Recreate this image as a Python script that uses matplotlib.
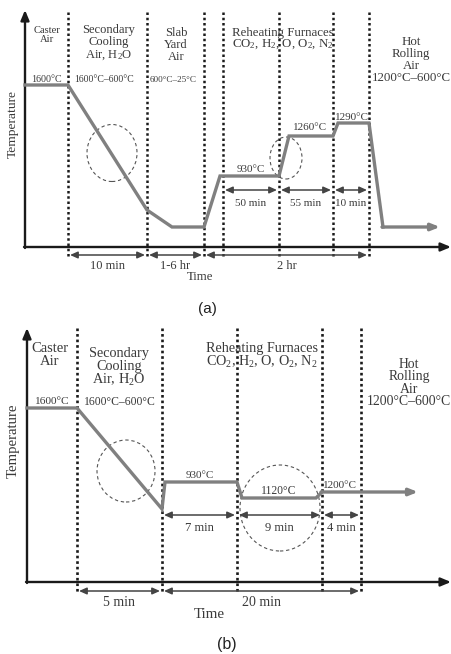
import matplotlib
matplotlib.use("Agg")
import matplotlib.pyplot as plt
from matplotlib.patches import Ellipse

plt.rcParams['font.family'] = ['Liberation Serif', 'DejaVu Serif']
plt.rcParams['mathtext.fontset'] = 'custom'
plt.rcParams['mathtext.rm'] = 'Liberation Serif'
plt.rcParams['mathtext.default'] = 'regular'

# ---------------- data (schematic units: x = time position, y = temperature level)
A_TIME = [25, 68, 147, 172, 204, 220, 279, 289, 333, 338, 369, 383, 440]
A_TEMP = [162, 162, 37, 20, 20, 71, 71, 111, 111, 124, 124, 20, 20]
A_BOUNDS = [68, 147, 204, 223, 279, 333, 369]
A_STAGES = ["Caster\nAir", "Secondary\nCooling\nAir, H$_2$O", "Slab\nYard\nAir",
            "Reheating Furnaces\nCO$_2$, H$_2$, O, O$_2$, N$_2$", "Hot\nRolling\nAir\n1200°C–600°C"]
A_TEMPS = ["1600°C", "1600°C–600°C", "600°C–25°C", "930°C", "1260°C", "1290°C"]
A_SPANS_LOW = [(68, 147, "10 min"), (147, 204, "1-6 hr"), (204, 369, "2 hr")]
A_SPANS_HIGH = [(223, 279, "50 min"), (279, 333, "55 min"), (333, 369, "10 min")]

B_TIME = [27, 77, 162, 165, 237, 242, 316, 322, 418]
B_TEMP = [174, 174, 73, 100, 100, 84, 84, 90, 90]
B_BOUNDS = [77, 162, 237, 322, 361]
B_STAGES = ["Caster\nAir", "Secondary\nCooling\nAir, H$_2$O",
            "Reheating Furnaces\nCO$_2$, H$_2$, O, O$_2$, N$_2$", "Hot\nRolling\nAir\n1200°C–600°C"]
B_TEMPS = ["1600°C", "1600°C–600°C", "930°C", "1120°C", "1200°C"]
B_SPANS_HIGH = [(162, 237, "7 min"), (237, 322, "9 min"), (322, 361, "4 min")]
B_SPANS_LOW = [(77, 162, "5 min"), (162, 361, "20 min")]

TXT = '#3a3a3a'
PROF = '#808080'
W, H = 452, 654

fig = plt.figure(figsize=(4.52, 6.54), dpi=100)
fig.patch.set_facecolor('white')


def make_axes(top_px, bot_px, base_px):
    ax = fig.add_axes([0, 1 - bot_px / H, 1, (bot_px - top_px) / H])
    ax.set_xlim(0, W)
    ax.set_ylim(base_px - bot_px, base_px - top_px)
    ax.axis('off')
    return ax


def span_arrow(ax, x0, x1, y, label, ly, fs):
    ax.annotate('', xy=(x1 - 2, y), xytext=(x0 + 2, y),
                arrowprops=dict(arrowstyle='<|-|>,head_length=0.45,head_width=0.2',
                                color='#444444', lw=1.1, shrinkA=0, shrinkB=0))
    ax.text((x0 + x1) / 2, ly, label, ha='center', va='center', fontsize=fs, color=TXT)


def axes_arrows(ax, x0, ytop, xright):
    ax.annotate('', xy=(x0, ytop), xytext=(x0, -1),
                arrowprops=dict(arrowstyle='-|>,head_length=0.6,head_width=0.25',
                                color='#1a1a1a', lw=1.7, shrinkA=0, shrinkB=0))
    ax.annotate('', xy=(xright, 0), xytext=(x0 - 1, 0),
                arrowprops=dict(arrowstyle='-|>,head_length=0.6,head_width=0.25',
                                color='#1a1a1a', lw=1.7, shrinkA=0, shrinkB=0))


def profile(ax, xs, ys):
    ax.plot(xs[:-1], ys[:-1], color=PROF, lw=2.4, solid_joinstyle='miter', zorder=3)
    ax.annotate('', xy=(xs[-1], ys[-1]), xytext=(xs[-2] - 1, ys[-2]),
                arrowprops=dict(arrowstyle='-|>,head_length=0.5,head_width=0.2',
                                color=PROF, lw=2.4, shrinkA=0, shrinkB=0), zorder=3)


def label(ax, x, y, s, fs, ls=1.0, **kw):
    ax.text(x, y, s, ha='center', va='center', fontsize=fs, color=TXT, linespacing=ls,
            zorder=4, **kw)


# ======================= panel (a) =======================
baseA = 247
axA = make_axes(0, 320, baseA)
pa = lambda py: baseA - py

for x in A_BOUNDS:
    axA.plot([x, x], [pa(12), pa(258)], color='#1a1a1a', lw=1.8,
             linestyle=(0, (1.0, 1.1)), zorder=2)
axes_arrows(axA, 25, pa(10), 451)
profile(axA, A_TIME, A_TEMP)

label(axA, 47, pa(35), A_STAGES[0], 7.6, 1.0)
label(axA, 109, pa(43), A_STAGES[1], 9.0, 0.98)
label(axA, 176, pa(45), A_STAGES[2], 9.0, 1.0)
label(axA, 283, pa(39), A_STAGES[3], 9.3, 0.9)
label(axA, 411, pa(60), A_STAGES[4], 9.3, 0.98)

label(axA, 46, pa(80), A_TEMPS[0], 7.2)
label(axA, 104, pa(80), A_TEMPS[1], 7.0)
label(axA, 173, pa(80), A_TEMPS[2], 6.6)
label(axA, 251, pa(169), A_TEMPS[3], 8.0)
label(axA, 310, pa(127), A_TEMPS[4], 8.0)
label(axA, 352, pa(117), A_TEMPS[5], 8.0)

for x0, x1, lab in A_SPANS_LOW:
    span_arrow(axA, x0, x1, pa(255), lab, pa(266), 9.0)
for x0, x1, lab in A_SPANS_HIGH:
    span_arrow(axA, x0, x1, pa(190), lab, pa(203), 8.0)

label(axA, 13, pa(124), "Temperature", 9.7, rotation=90)
label(axA, 200, pa(277), "Time", 9.2)
axA.text(207, pa(309), "(a)", ha='center', va='center', fontsize=11, color='#222222',
         family=['Liberation Sans', 'DejaVu Sans'])

axA.add_patch(Ellipse((112, pa(153)), 50, 57, fill=False, ls=(0, (3, 2.5)), lw=0.8, ec='#555555'))
axA.add_patch(Ellipse((286, pa(158)), 32, 42, fill=False, ls=(0, (3, 2.5)), lw=0.8, ec='#555555'))

# ======================= panel (b) =======================
baseB = 582
axB = make_axes(320, 654, baseB)
pb = lambda py: baseB - py

for x in B_BOUNDS:
    axB.plot([x, x], [pb(328), pb(593)], color='#1a1a1a', lw=1.9,
             linestyle=(0, (1.0, 1.1)), zorder=2)
axes_arrows(axB, 27, pb(328), 451)
profile(axB, B_TIME, B_TEMP)

label(axB, 50, pb(355), B_STAGES[0], 10.5, 0.98)
label(axB, 119, pb(368), B_STAGES[1], 10.3, 0.95)
label(axB, 262, pb(356), B_STAGES[2], 10.2, 0.95)
label(axB, 409, pb(383), B_STAGES[3], 9.9, 0.96)

label(axB, 51, pb(402), B_TEMPS[0], 8.2)
label(axB, 120, pb(402), B_TEMPS[1], 8.4)
label(axB, 200, pb(476), B_TEMPS[2], 8.0)
label(axB, 279, pb(491), B_TEMPS[3], 8.4)
label(axB, 340, pb(486), B_TEMPS[4], 8.0)

for x0, x1, lab in B_SPANS_HIGH:
    span_arrow(axB, x0, x1, pb(515), lab, pb(528), 9.0)
for x0, x1, lab in B_SPANS_LOW:
    span_arrow(axB, x0, x1, pb(591), lab, pb(602), 10.0)

label(axB, 13, pb(441), "Temperature", 10.6, rotation=90)
label(axB, 209, pb(615), "Time", 10.8)
axB.text(227, pb(644), "(b)", ha='center', va='center', fontsize=11.5, color='#222222',
         family=['Liberation Sans', 'DejaVu Sans'])

axB.add_patch(Ellipse((126, pb(471)), 58, 62, fill=False, ls=(0, (3, 2.5)), lw=0.8, ec='#555555'))
axB.add_patch(Ellipse((280, pb(508)), 80, 86, fill=False, ls=(0, (3, 2.5)), lw=0.8, ec='#555555'))

fig.savefig("out.png", dpi=100, facecolor='white')
